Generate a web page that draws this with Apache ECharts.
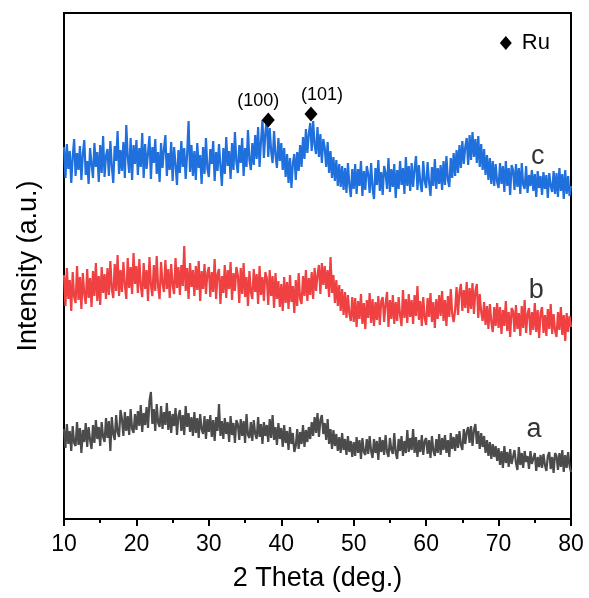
<!DOCTYPE html>
<html>
<head>
<meta charset="utf-8">
<script src="https://cdn.jsdelivr.net/npm/echarts@6/dist/echarts.min.js"></script>
<style>
  html, body { margin: 0; padding: 0; background: #fff; }
  #chart { width: 589px; height: 598px; }
</style>
</head>
<body>
<div id="chart"></div>
<script>
// 2θ axis: 10° .. 80°, one reading every 0.2°
const thetaStart = 10;
const thetaStep = 0.2;

// curve c (blue), intensity offset in a.u.
const curveC = [
  372, 341, 375, 350, 368, 336, 362, 380, 343, 366,
  349, 373, 339, 365, 379, 344, 358, 335, 371, 355,
  341, 376, 352, 367, 337, 374, 346, 383, 342, 363,
  370, 343, 378, 353, 336, 373, 358, 388, 345, 369,
  348, 377, 341, 394, 362, 346, 381, 339, 374, 355,
  379, 344, 371, 352, 386, 341, 375, 350, 366, 383,
  340, 372, 356, 380, 345, 367, 337, 376, 351, 370,
  384, 343, 366, 349, 377, 338, 372, 354, 334, 369,
  346, 378, 352, 371, 340, 365, 398, 347, 374, 343,
  368, 339, 376, 351, 364, 335, 372, 345, 381, 350,
  342, 370, 355, 378, 338, 367, 348, 375, 353, 333,
  371, 345, 382, 353, 368, 340, 376, 349, 387, 357,
  346, 374, 356, 381, 343, 371, 352, 389, 359, 349,
  376, 354, 384, 360, 392, 352, 378, 399, 361, 386,
  402, 362, 391, 368, 356, 388, 364, 351, 381, 358,
  376, 349, 371, 342, 365, 336, 361, 331, 356, 365,
  339, 367, 348, 374, 352, 382, 360, 390, 366, 385,
  396, 368, 398, 374, 365, 392, 362, 385, 356, 380,
  371, 352, 377, 346, 368, 341, 362, 338, 359, 333,
  355, 332, 353, 329, 351, 326, 356, 334, 322, 350,
  330, 355, 325, 350, 333, 358, 323, 348, 329, 353,
  345, 326, 356, 331, 320, 351, 334, 359, 328, 347,
  324, 353, 346, 330, 361, 327, 350, 332, 355, 321,
  349, 330, 358, 334, 351, 325, 362, 333, 353, 328,
  356, 332, 350, 363, 329, 354, 336, 327, 358, 338,
  331, 357, 337, 323, 352, 333, 360, 330, 351, 335,
  354, 329, 358, 334, 363, 339, 332, 361, 341, 366,
  343, 369, 346, 374, 351, 378, 355, 372, 381, 354,
  384, 359, 387, 362, 380, 356, 383, 352, 375, 349,
  370, 344, 364, 339, 361, 335, 358, 333, 355, 337,
  331, 356, 335, 353, 327, 358, 333, 351, 324, 354,
  349, 329, 355, 332, 351, 325, 356, 334, 330, 353,
  326, 344, 333, 349, 328, 345, 322, 348, 331, 343,
  324, 347, 330, 344, 321, 346, 333, 327, 348, 325,
  346, 322, 351, 328, 345, 320, 349, 325, 343, 323,
  333
];

// curve b (red)
const curveB = [
  244, 213, 251, 220, 239, 208, 247, 222, 216, 253,
  219, 242, 210, 246, 225, 215, 250, 221, 241, 212,
  248, 223, 256, 218, 243, 214, 252, 226, 245, 220,
  251, 224, 258, 230, 221, 255, 228, 264, 223, 249,
  227, 257, 234, 220, 261, 231, 252, 225, 266, 235,
  253, 226, 260, 233, 222, 256, 230, 249, 218, 262,
  234, 223, 254, 228, 263, 232, 220, 257, 236, 227,
  259, 230, 250, 221, 255, 234, 225, 261, 231, 252,
  224, 254, 233, 273, 228, 251, 220, 256, 232, 249,
  223, 253, 229, 258, 218, 248, 230, 255, 225, 246,
  252, 222, 247, 227, 260, 220, 245, 250, 215, 243,
  226, 254, 221, 249, 230, 257, 219, 246, 228, 252,
  244, 216, 251, 225, 256, 222, 242, 213, 248, 227,
  220, 250, 227, 245, 215, 253, 224, 242, 218, 247,
  241, 214, 249, 223, 243, 211, 246, 220, 238, 212,
  235, 208, 242, 216, 237, 210, 244, 217, 233, 206,
  239, 213, 246, 220, 215, 243, 223, 249, 218, 241,
  224, 247, 220, 251, 228, 244, 254, 225, 256, 234,
  253, 230, 249, 222, 262, 226, 244, 216, 239, 213,
  234, 208, 230, 204, 227, 201, 224, 205, 198, 222,
  197, 221, 192, 218, 200, 225, 195, 216, 190, 219,
  201, 226, 196, 220, 193, 217, 199, 223, 194, 218,
  222, 197, 215, 227, 192, 219, 200, 224, 195, 217,
  198, 222, 204, 193, 229, 201, 220, 196, 225, 202,
  219, 195, 224, 203, 233, 199, 218, 193, 222, 201,
  194, 221, 202, 226, 197, 217, 191, 220, 200, 224,
  203, 228, 198, 219, 193, 223, 202, 230, 205, 197,
  209, 232, 204, 227, 235, 208, 229, 211, 237, 206,
  231, 210, 236, 205, 228, 235, 201, 225, 207, 198,
  217, 194, 213, 190, 215, 197, 187, 212, 193, 216,
  191, 212, 185, 209, 193, 218, 188, 207, 182, 211,
  208, 187, 214, 190, 206, 183, 213, 191, 219, 186,
  205, 211, 184, 207, 189, 216, 187, 209, 181, 206,
  212, 186, 204, 183, 210, 190, 215, 185, 205, 188,
  182, 207, 189, 212, 184, 204, 178, 206, 187, 203,
  192
];

// curve a (grey)
const curveA = [
  90, 71, 95, 75, 88, 68, 93, 76, 73, 97,
  74, 91, 66, 89, 77, 96, 72, 92, 79, 70,
  94, 76, 99, 80, 92, 73, 97, 82, 77, 101,
  81, 98, 68, 102, 85, 79, 104, 87, 82, 109,
  100, 83, 107, 88, 103, 84, 110, 90, 86, 105,
  89, 108, 93, 114, 87, 106, 94, 112, 91, 118,
  127, 95, 110, 88, 115, 96, 92, 113, 90, 107,
  94, 116, 89, 108, 86, 105, 93, 111, 84, 103,
  109, 88, 104, 84, 113, 92, 106, 87, 102, 83,
  107, 86, 101, 81, 105, 90, 85, 103, 80, 100,
  87, 104, 82, 99, 78, 102, 88, 115, 83, 98,
  80, 101, 85, 97, 77, 103, 84, 96, 76, 99,
  95, 79, 100, 83, 98, 76, 105, 84, 81, 97,
  78, 99, 85, 80, 102, 82, 95, 75, 97, 83,
  94, 77, 100, 81, 104, 79, 92, 74, 96, 80,
  91, 72, 94, 76, 88, 69, 92, 75, 86, 67,
  73, 90, 70, 87, 75, 94, 72, 89, 77, 92,
  80, 97, 83, 102, 86, 106, 82, 99, 104, 85,
  96, 79, 100, 75, 90, 70, 89, 73, 85, 68,
  82, 66, 86, 69, 80, 64, 83, 67, 78, 62,
  77, 63, 82, 66, 79, 60, 81, 67, 64, 80,
  65, 83, 68, 61, 80, 66, 78, 59, 82, 67,
  79, 64, 84, 67, 62, 81, 69, 65, 86, 66,
  60, 80, 68, 83, 63, 78, 66, 89, 67, 81,
  69, 90, 66, 82, 62, 79, 67, 84, 64, 78,
  81, 65, 79, 61, 83, 68, 63, 80, 66, 85,
  64, 81, 69, 84, 66, 79, 62, 86, 70, 82,
  68, 85, 71, 88, 74, 69, 90, 75, 87, 92,
  76, 93, 73, 89, 95, 75, 88, 70, 86, 72,
  83, 66, 79, 63, 77, 60, 75, 62, 73, 58,
  71, 54, 68, 51, 73, 56, 67, 52, 70, 55,
  53, 69, 56, 49, 72, 54, 66, 51, 68, 57,
  63, 50, 68, 55, 53, 66, 48, 62, 52, 64,
  51, 65, 54, 48, 63, 67, 50, 62, 46, 66,
  63, 49, 66, 52, 69, 47, 64, 51, 67, 53,
  47
];

// Ru reflections
const peakTheta = [38.2, 44.1];
const peakHeight = [399, 405];
const peakNames = ['(100)', '(101)'];

// legend marker and curve names
const legendPos = [71, 476];
const curveNames = ['c', 'b', 'a'];
const curveNameTheta = [75.4, 75.2, 74.9];
const curveNameHeight = [362, 228, 89];

const xTicks = [10, 20, 30, 40, 50, 60, 70, 80];

const theta = curveC.map((_, i) => +(thetaStart + i * thetaStep).toFixed(1));
const pair = arr => arr.map((v, i) => [theta[i], v]);

const font = "Arial, 'Liberation Sans', sans-serif";

const chart = echarts.init(document.getElementById('chart'));

chart.setOption({
  animation: false,
  grid: {
    left: 64, right: 18, top: 13, bottom: 79,
    show: true,
    borderColor: '#000',
    borderWidth: 2
  },
  xAxis: {
    type: 'value',
    min: xTicks[0],
    max: xTicks[xTicks.length - 1],
    interval: 10,
    name: '2 Theta (deg.)',
    nameLocation: 'middle',
    nameGap: 46,
    nameTextStyle: { fontFamily: font, fontSize: 27, color: '#000' },
    axisLine: { lineStyle: { color: '#000', width: 2 } },
    axisTick: { inside: false, length: 7, lineStyle: { color: '#000', width: 2 } },
    minorTick: { show: true, splitNumber: 2, length: 4, lineStyle: { color: '#000', width: 2 } },
    axisLabel: { fontFamily: font, fontSize: 23, color: '#000', margin: 14 },
    splitLine: { show: false }
  },
  yAxis: {
    type: 'value',
    min: 0,
    max: 506,
    name: 'Intensity (a.u.)',
    nameLocation: 'middle',
    nameGap: 22,
    nameTextStyle: { fontFamily: font, fontSize: 27, color: '#000' },
    axisLine: { show: true, lineStyle: { color: '#000', width: 2 } },
    axisTick: { show: false },
    axisLabel: { show: false },
    splitLine: { show: false }
  },
  series: [
    {
      type: 'line', data: pair(curveC), showSymbol: false,
      lineStyle: { color: '#1f6fdc', width: 2.2, join: 'bevel' }, z: 3
    },
    {
      type: 'line', data: pair(curveB), showSymbol: false,
      lineStyle: { color: '#ef4141', width: 2.2, join: 'bevel' }, z: 3
    },
    {
      type: 'line', data: pair(curveA), showSymbol: false,
      lineStyle: { color: '#4b4b4b', width: 2.2, join: 'bevel' }, z: 3
    },
    {
      type: 'scatter',
      symbol: 'diamond',
      symbolSize: [13, 15],
      itemStyle: { color: '#000', opacity: 1 },
      z: 5,
      data: peakTheta.map((t, i) => ({
        value: [t, peakHeight[i]],
        label: {
          show: true,
          position: 'top',
          distance: 2,
          offset: [i === 0 ? -10 : 11, 0],
          formatter: peakNames[i],
          fontFamily: font, fontSize: 18, color: '#000'
        }
      }))
    },
    {
      type: 'scatter',
      symbol: 'diamond',
      symbolSize: [12, 14],
      itemStyle: { color: '#000', opacity: 1 },
      z: 5,
      data: [{
        value: legendPos,
        label: {
          show: true, position: 'right', distance: 10,
          formatter: 'Ru', fontFamily: font, fontSize: 22, color: '#000'
        }
      }]
    },
    {
      type: 'scatter',
      symbolSize: 0,
      z: 5,
      data: curveNames.map((n, i) => ({
        value: [curveNameTheta[i], curveNameHeight[i]],
        label: {
          show: true, position: 'inside',
          formatter: n, fontFamily: font, fontSize: 27, color: '#000'
        }
      }))
    }
  ]
});
</script>
</body>
</html>
